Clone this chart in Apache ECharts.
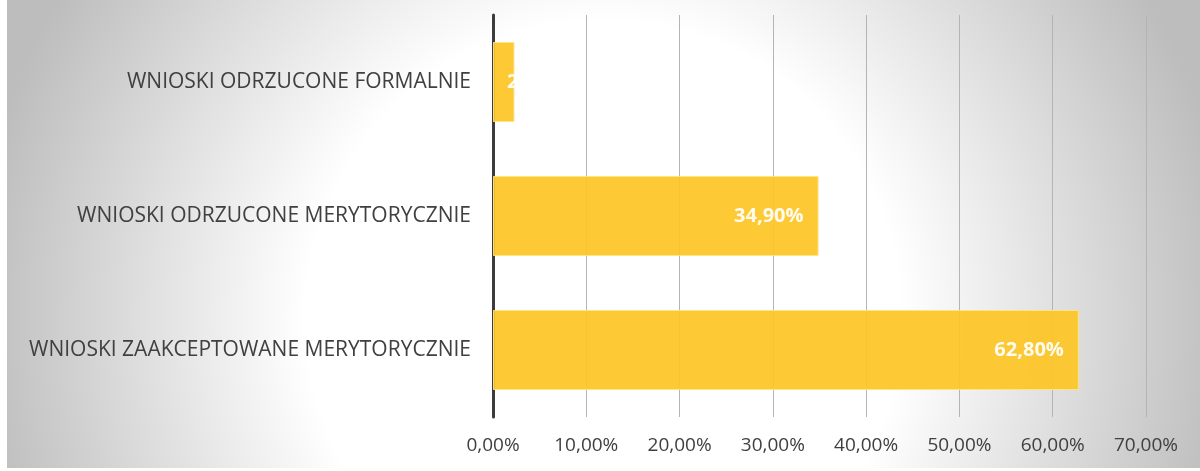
<!DOCTYPE html>
<html>
<head>
<meta charset="utf-8">
<script src="https://cdn.jsdelivr.net/npm/echarts@6/dist/echarts.min.js"></script>
<style>
  html, body { margin: 0; padding: 0; background: #ffffff; }
  #chart { position: absolute; left: 7px; top: 0; width: 1193px; height: 468px; }
</style>
</head>
<body>
<div id="chart"></div>
<script>
'use strict';

// bottom to top, as the category axis draws them
var categories = [
  'WNIOSKI ZAAKCEPTOWANE MERYTORYCZNIE',
  'WNIOSKI ODRZUCONE MERYTORYCZNIE',
  'WNIOSKI ODRZUCONE FORMALNIE'
];
var shares = [62.8, 34.9, 2.3];
var axisMax = 70;
var axisStep = 10;

function pct(v) {
  return v.toFixed(2).replace('.', ',') + '%';
}

var barData = shares.map(function(v) {
  var item = { value: v };
  if (v < 5) {
    // label does not fit, cut it like the original
    item.label = {
      show: true,
      position: 'insideLeft',
      distance: 14,
      width: 14,
      overflow: 'truncate',
      ellipsis: ''
    };
  }
  return item;
});

var myChart = echarts.init(document.getElementById('chart'));
myChart.setOption({
  backgroundColor: {
    type: 'radial',
    x: 0.5, y: 0.68, r: 1.35,
    colorStops: [
      { offset: 0, color: '#ffffff' },
      { offset: 0.47, color: '#ffffff' },
      { offset: 1, color: '#bdbdbd' }
    ]
  },
  animation: false,
  grid: { left: 486, right: 54, top: 15, bottom: 51 },
  xAxis: {
    type: 'value',
    min: 0,
    max: axisMax,
    interval: axisStep,
    axisLine: { show: false },
    axisTick: { show: false },
    splitLine: { lineStyle: { color: '#b4b4b4', width: 1 } },
    axisLabel: {
      margin: 19,
      color: '#404040',
      fontFamily: 'Open Sans',
      fontSize: 19,
      formatter: function(v) { return pct(v); }
    }
  },
  yAxis: {
    type: 'category',
    data: categories,
    axisTick: { show: false },
    axisLine: { lineStyle: { color: '#3c3c3c', width: 3 } },
    axisLabel: {
      margin: 22,
      color: '#404040',
      fontFamily: 'Open Sans',
      fontSize: 21
    }
  },
  series: [{
    type: 'bar',
    data: barData,
    barWidth: 80,
    itemStyle: {
      color: '#fdc626',
      borderColor: '#ffe38a',
      borderWidth: 1,
      opacity: 0.93
    },
    label: {
      show: true,
      position: 'insideRight',
      distance: 15,
      color: '#ffffff',
      fontFamily: 'Open Sans',
      fontWeight: 'bold',
      fontSize: 20,
      formatter: function(p) { return pct(p.value); }
    }
  }]
});
</script>
</body>
</html>
